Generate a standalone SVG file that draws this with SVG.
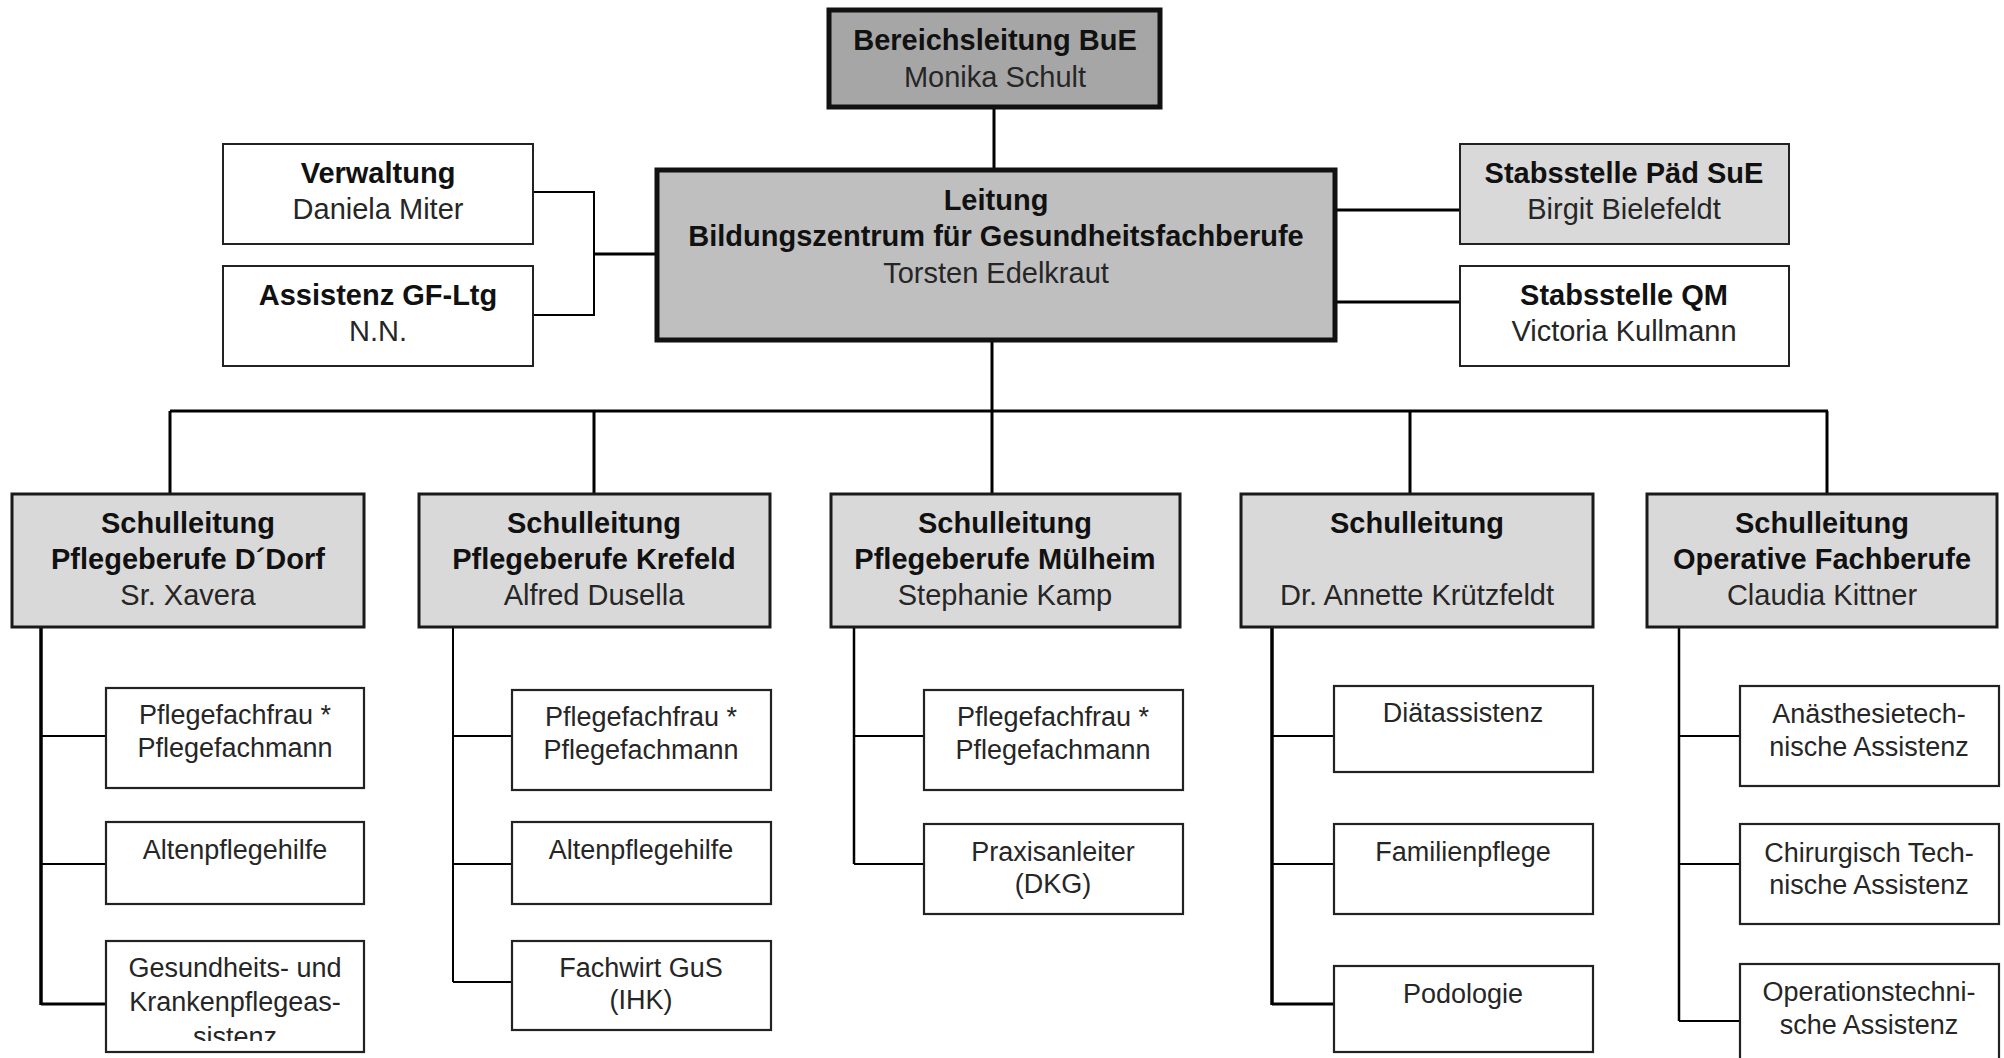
<svg xmlns="http://www.w3.org/2000/svg" width="2004" height="1058" viewBox="0 0 2004 1058">
<style>
text{font-family:"Liberation Sans",Arial,sans-serif;text-anchor:middle;fill:#111}
.b{font-weight:bold;font-size:29px}
.r{font-size:29px;fill:#262626}
.s{font-size:27px;fill:#262626}
.top{fill:#a6a6a6;stroke:#111;stroke-width:5}
.lead{fill:#bfbfbf;stroke:#111;stroke-width:5}
.sch{fill:#d9d9d9;stroke:#1a1a1a;stroke-width:3}
.staff{fill:#fff;stroke:#222;stroke-width:2}
.stafg{fill:#d9d9d9;stroke:#222;stroke-width:2}
.sub{fill:#fff;stroke:#222;stroke-width:2.2}
.c{fill:none;stroke:#000;stroke-width:3}
.t{fill:none;stroke:#000;stroke-width:2}
</style>
<defs>
<clipPath id="clipG"><rect x="106" y="941" width="258" height="100"/></clipPath>
</defs>
<g id="connectors">
<line class="c" x1="994" y1="108" x2="994" y2="170"/>
<polyline class="t" points="533,192 594,192 594,315 533,315"/>
<line class="c" x1="594" y1="254" x2="657" y2="254"/>
<line class="c" x1="1335" y1="210" x2="1460" y2="210"/>
<line class="c" x1="1335" y1="302" x2="1460" y2="302"/>
<line class="c" x1="992" y1="340" x2="992" y2="494"/>
<line class="c" x1="170" y1="411" x2="1828" y2="411"/>
<line class="c" x1="170" y1="411" x2="170" y2="494"/>
<line class="c" x1="594" y1="411" x2="594" y2="494"/>
<line class="c" x1="1410" y1="411" x2="1410" y2="494"/>
<line class="c" x1="1827" y1="411" x2="1827" y2="494"/>
<line class="c" style="stroke-width:3.5" x1="41" y1="627" x2="41" y2="1005"/>
<line class="t" x1="41" y1="736" x2="106" y2="736"/>
<line class="t" x1="41" y1="864" x2="106" y2="864"/>
<line class="c" x1="41" y1="1004" x2="106" y2="1004"/>
<line class="t" x1="453" y1="627" x2="453" y2="982"/>
<line class="t" x1="453" y1="736" x2="512" y2="736"/>
<line class="t" x1="453" y1="864" x2="512" y2="864"/>
<line class="t" x1="453" y1="982" x2="512" y2="982"/>
<line class="t" style="stroke-width:2.5" x1="854" y1="627" x2="854" y2="864"/>
<line class="t" x1="854" y1="736" x2="924" y2="736"/>
<line class="t" x1="854" y1="864" x2="924" y2="864"/>
<line class="c" style="stroke-width:3.5" x1="1272" y1="627" x2="1272" y2="1005"/>
<line class="t" x1="1272" y1="736" x2="1334" y2="736"/>
<line class="t" x1="1272" y1="864" x2="1334" y2="864"/>
<line class="c" x1="1272" y1="1004" x2="1334" y2="1004"/>
<line class="t" style="stroke-width:2.5" x1="1679" y1="627" x2="1679" y2="1021"/>
<line class="t" x1="1679" y1="736" x2="1740" y2="736"/>
<line class="t" x1="1679" y1="864" x2="1740" y2="864"/>
<line class="t" x1="1679" y1="1021" x2="1740" y2="1021"/>
</g>
<g id="bereichsleitung">
<rect class="top" x="829" y="10" width="331" height="97"/>
<text class="b" x="995" y="50">Bereichsleitung BuE</text>
<text class="r" x="995" y="87">Monika Schult</text>
</g>
<g id="leitung">
<rect class="lead" x="657" y="170" width="678" height="170"/>
<text class="b" x="996" y="210">Leitung</text>
<text class="b" x="996" y="246">Bildungszentrum für Gesundheitsfachberufe</text>
<text class="r" x="996" y="283">Torsten Edelkraut</text>
</g>
<g id="verwaltung">
<rect class="staff" x="223" y="144" width="310" height="100"/>
<text class="b" x="378" y="183">Verwaltung</text>
<text class="r" x="378" y="219">Daniela Miter</text>
</g>
<g id="assistenz">
<rect class="staff" x="223" y="266" width="310" height="100"/>
<text class="b" x="378" y="305">Assistenz GF-Ltg</text>
<text class="r" x="378" y="341">N.N.</text>
</g>
<g id="stab-paed">
<rect class="stafg" x="1460" y="144" width="329" height="100"/>
<text class="b" x="1624" y="183">Stabsstelle Päd SuE</text>
<text class="r" x="1624" y="219">Birgit Bielefeldt</text>
</g>
<g id="stab-qm">
<rect class="staff" x="1460" y="266" width="329" height="100"/>
<text class="b" x="1624" y="305">Stabsstelle QM</text>
<text class="r" x="1624" y="341">Victoria Kullmann</text>
</g>
<g id="sl-dorf">
<rect class="sch" x="12" y="494" width="352" height="133"/>
<text class="b" x="188" y="533">Schulleitung</text>
<text class="b" x="188" y="569">Pflegeberufe D´Dorf</text>
<text class="r" x="188" y="605">Sr. Xavera</text>
</g>
<g id="sl-krefeld">
<rect class="sch" x="419" y="494" width="351" height="133"/>
<text class="b" x="594" y="533">Schulleitung</text>
<text class="b" x="594" y="569">Pflegeberufe Krefeld</text>
<text class="r" x="594" y="605">Alfred Dusella</text>
</g>
<g id="sl-muelheim">
<rect class="sch" x="831" y="494" width="349" height="133"/>
<text class="b" x="1005" y="533">Schulleitung</text>
<text class="b" x="1005" y="569">Pflegeberufe Mülheim</text>
<text class="r" x="1005" y="605">Stephanie Kamp</text>
</g>
<g id="sl-kruetzfeldt">
<rect class="sch" x="1241" y="494" width="352" height="133"/>
<text class="b" x="1417" y="533">Schulleitung</text>
<text class="r" x="1417" y="605">Dr. Annette Krützfeldt</text>
</g>
<g id="sl-operativ">
<rect class="sch" x="1647" y="494" width="350" height="133"/>
<text class="b" x="1822" y="533">Schulleitung</text>
<text class="b" x="1822" y="569">Operative Fachberufe</text>
<text class="r" x="1822" y="605">Claudia Kittner</text>
</g>
<g id="d-pflegefach">
<rect class="sub" x="106" y="688" width="258" height="100"/>
<text class="s" x="235" y="724">Pflegefachfrau *</text>
<text class="s" x="235" y="757">Pflegefachmann</text>
</g>
<g id="d-altenpflegehilfe">
<rect class="sub" x="106" y="822" width="258" height="82"/>
<text class="s" x="235" y="859">Altenpflegehilfe</text>
</g>
<g id="d-gka">
<rect class="sub" x="106" y="941" width="258" height="111"/>
<text class="s" x="235" y="977">Gesundheits- und</text>
<text class="s" x="235" y="1011">Krankenpflegeas-</text>
<text class="s" x="235" y="1046" clip-path="url(#clipG)">sistenz</text>
</g>
<g id="k-pflegefach">
<rect class="sub" x="512" y="690" width="259" height="100"/>
<text class="s" x="641" y="726">Pflegefachfrau *</text>
<text class="s" x="641" y="759">Pflegefachmann</text>
</g>
<g id="k-altenpflegehilfe">
<rect class="sub" x="512" y="822" width="259" height="82"/>
<text class="s" x="641" y="859">Altenpflegehilfe</text>
</g>
<g id="k-fachwirt">
<rect class="sub" x="512" y="941" width="259" height="89"/>
<text class="s" x="641" y="977">Fachwirt GuS</text>
<text class="s" x="641" y="1009">(IHK)</text>
</g>
<g id="m-pflegefach">
<rect class="sub" x="924" y="690" width="259" height="100"/>
<text class="s" x="1053" y="726">Pflegefachfrau *</text>
<text class="s" x="1053" y="759">Pflegefachmann</text>
</g>
<g id="m-praxisanleiter">
<rect class="sub" x="924" y="824" width="259" height="90"/>
<text class="s" x="1053" y="861">Praxisanleiter</text>
<text class="s" x="1053" y="893">(DKG)</text>
</g>
<g id="a-diaet">
<rect class="sub" x="1334" y="686" width="259" height="86"/>
<text class="s" x="1463" y="722">Diätassistenz</text>
</g>
<g id="a-familien">
<rect class="sub" x="1334" y="824" width="259" height="90"/>
<text class="s" x="1463" y="861">Familienpflege</text>
</g>
<g id="a-podologie">
<rect class="sub" x="1334" y="966" width="259" height="86"/>
<text class="s" x="1463" y="1003">Podologie</text>
</g>
<g id="o-ata">
<rect class="sub" x="1740" y="686" width="259" height="100"/>
<text class="s" x="1869" y="723">Anästhesietech-</text>
<text class="s" x="1869" y="756">nische Assistenz</text>
</g>
<g id="o-cta">
<rect class="sub" x="1740" y="824" width="259" height="100"/>
<text class="s" x="1869" y="862">Chirurgisch Tech-</text>
<text class="s" x="1869" y="894">nische Assistenz</text>
</g>
<g id="o-ota">
<rect class="sub" x="1740" y="964" width="259" height="100"/>
<text class="s" x="1869" y="1001">Operationstechni-</text>
<text class="s" x="1869" y="1034">sche Assistenz</text>
</g>
</svg>
